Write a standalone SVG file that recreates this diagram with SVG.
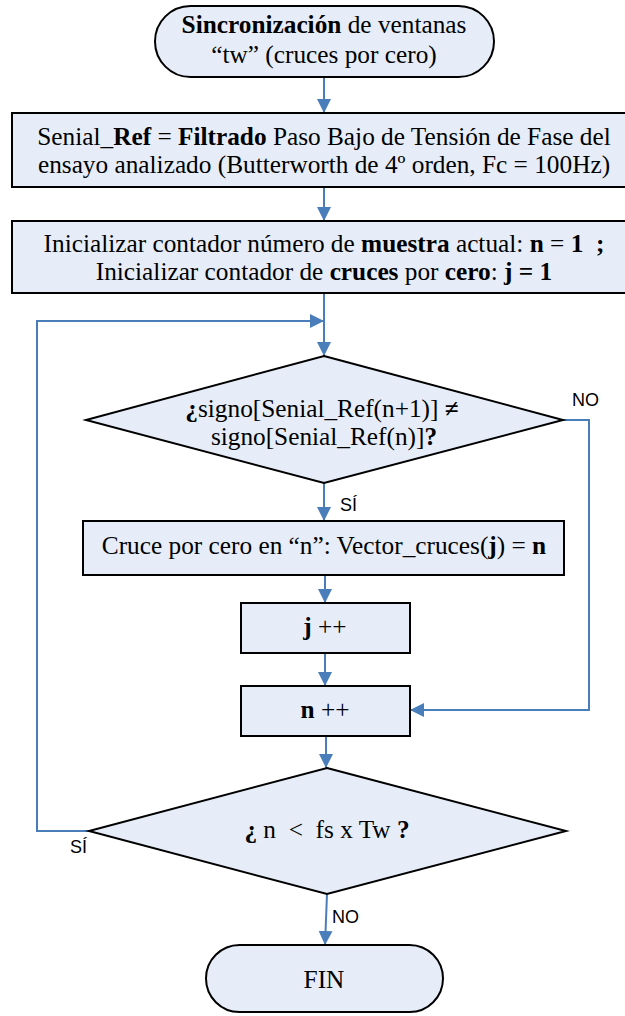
<svg xmlns="http://www.w3.org/2000/svg" width="625" height="1016" viewBox="0 0 625 1016">
  <style>
    .shape { fill: #e7edf8; stroke: #000; stroke-width: 2; }
    .txt { font-family: "Liberation Serif", "Times New Roman", serif; font-size: 25.3px; fill: #000; text-anchor: middle; }
    .pre { white-space: pre; }
    .b { font-weight: bold; }
    .lbl { font-family: "Liberation Sans", Arial, sans-serif; font-size: 18px; fill: #000; }
    .wire { fill: none; stroke: #4a7ebb; stroke-width: 2; }
  </style>
  <defs>
    <marker id="arrow" viewBox="0 0 14 14" refX="14" refY="7" markerWidth="14" markerHeight="14" markerUnits="userSpaceOnUse" orient="auto">
      <path d="M0,0 L14,7 L0,14 Z" fill="#4a7ebb"/>
    </marker>
  </defs>

  <!-- connectors -->
  <g id="connectors">
    <path class="wire" d="M324,77 V113" marker-end="url(#arrow)"/>
    <path class="wire" d="M324,187 V221" marker-end="url(#arrow)"/>
    <path class="wire" d="M324,293 V356" marker-end="url(#arrow)"/>
    <path class="wire" d="M324,483 V521" marker-end="url(#arrow)"/>
    <path class="wire" d="M325,575 V603" marker-end="url(#arrow)"/>
    <path class="wire" d="M325,653 V686" marker-end="url(#arrow)"/>
    <path class="wire" d="M326,736 V768" marker-end="url(#arrow)"/>
    <path class="wire" d="M327,894 L325,945" marker-end="url(#arrow)"/>
    <path class="wire" d="M563,420 H589 V710 H410" marker-end="url(#arrow)"/>
    <path class="wire" d="M89,831 H37 V321 H324" marker-end="url(#arrow)"/>
    <text class="lbl" x="572" y="406">NO</text>
    <text class="lbl" x="340" y="511">SÍ</text>
    <text class="lbl" x="70" y="853">SÍ</text>
    <text class="lbl" x="332" y="923">NO</text>
  </g>

  <!-- start terminator -->
  <g id="start">
    <rect class="shape" x="155" y="6" width="339" height="71" rx="35.5" ry="35.5"/>
    <text class="txt" x="324" y="33"><tspan class="b">Sincronización</tspan> de ventanas</text>
    <text class="txt" x="324" y="63">“tw” (cruces por cero)</text>
  </g>

  <!-- reference signal filtering -->
  <g id="filter">
    <rect class="shape" x="12" y="113" width="624" height="74"/>
    <text class="txt" x="324" y="145">Senial_<tspan class="b">Ref</tspan> = <tspan class="b">Filtrado</tspan> Paso Bajo de Tensión de Fase del</text>
    <text class="txt" x="324" y="173">ensayo analizado (Butterworth de 4º orden, Fc = 100Hz)</text>
  </g>

  <!-- counter initialisation -->
  <g id="init">
    <rect class="shape" x="12" y="221" width="624" height="72"/>
    <text class="txt pre" x="324" y="252">Inicializar contador número de <tspan class="b">muestra</tspan> actual: <tspan class="b">n</tspan> = <tspan class="b">1  ;</tspan></text>
    <text class="txt" x="324" y="280">Inicializar contador de <tspan class="b">cruces</tspan> por <tspan class="b">cero</tspan>: <tspan class="b">j = 1</tspan></text>
  </g>

  <!-- sign change decision -->
  <g id="sign-check">
    <polygon class="shape" points="324,356 563,420 324,483 86,420"/>
    <text class="txt" x="322" y="417"><tspan class="b">¿</tspan>signo[Senial_Ref(n+1)] <tspan class="b">≠</tspan></text>
    <text class="txt" x="324" y="445">signo[Senial_Ref(n)]<tspan class="b">?</tspan></text>
  </g>

  <!-- store crossing -->
  <g id="store">
    <rect class="shape" x="83" y="521" width="481" height="54"/>
    <text class="txt" x="324" y="554">Cruce por cero en “n”: Vector_cruces(<tspan class="b">j</tspan>) = <tspan class="b">n</tspan></text>
  </g>

  <!-- j increment -->
  <g id="inc-j">
    <rect class="shape" x="241" y="603" width="169" height="50"/>
    <text class="txt" x="325" y="635"><tspan class="b">j</tspan> ++</text>
  </g>

  <!-- n increment -->
  <g id="inc-n">
    <rect class="shape" x="241" y="686" width="169" height="50"/>
    <text class="txt" x="325" y="718"><tspan class="b">n</tspan> ++</text>
  </g>

  <!-- window length decision -->
  <g id="window-check">
    <polygon class="shape" points="327,768 566,831 327,894 89,831"/>
    <text class="txt pre" x="327" y="838"><tspan class="b">¿</tspan> n  &lt;  fs x Tw <tspan class="b">?</tspan></text>
  </g>

  <!-- end terminator -->
  <g id="end">
    <rect class="shape" x="206" y="945" width="237" height="67" rx="33.5" ry="33.5"/>
    <text class="txt" x="324" y="988">FIN</text>
  </g>
</svg>
